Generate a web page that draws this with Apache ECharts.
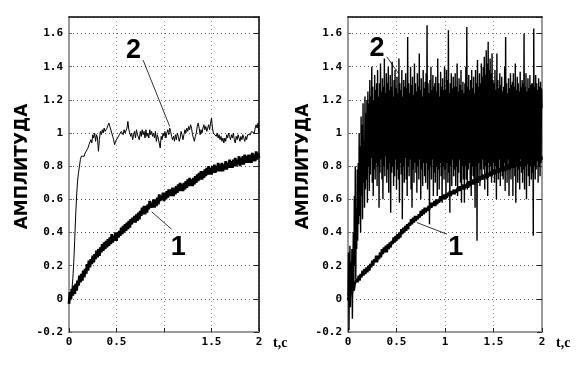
<!DOCTYPE html>
<html><head><meta charset="utf-8">
<script src="https://cdn.jsdelivr.net/npm/echarts@6/dist/echarts.min.js"></script>
<style>html,body{margin:0;padding:0;background:#fff}#c{width:577px;height:366px}</style>
</head><body><div id="c"></div><script>
// sample steps of the recorded signals (seconds)
const T_STEP = 0.01;
const T_STEP_NOISY = 0.005;
const leftXTickLabels  = ['0', '0.5', '', '1.5', '2'];
const rightXTickLabels = ['0', '0.5', '1', '1.5', '2'];
const yTickLabels = ['-0.2','0','0.2','0.4','0.6','0.8','1','1.2','1.4','1.6'];
const yAxisName = 'АМПЛИТУДА';
const xAxisName = 't,c';

// left panel, curve 1 (slow rise, noisy band)
const left1 = [
 -0.03,0.04,0.00,0.06,0.02,0.08,0.03,0.09,0.05,0.11,
 0.08,0.14,0.10,0.15,0.11,0.17,0.13,0.18,0.15,0.21,
 0.17,0.23,0.19,0.24,0.21,0.26,0.22,0.27,0.24,0.29,
 0.25,0.30,0.26,0.31,0.28,0.33,0.29,0.34,0.30,0.35,
 0.31,0.36,0.32,0.37,0.33,0.39,0.34,0.38,0.35,0.40,
 0.35,0.40,0.37,0.41,0.38,0.43,0.39,0.44,0.40,0.45,
 0.41,0.46,0.42,0.47,0.43,0.48,0.45,0.49,0.46,0.50,
 0.46,0.51,0.47,0.52,0.48,0.53,0.50,0.55,0.51,0.56,
 0.51,0.56,0.52,0.57,0.54,0.59,0.55,0.58,0.55,0.60,
 0.55,0.60,0.56,0.61,0.57,0.63,0.59,0.62,0.60,0.64,
 0.59,0.64,0.60,0.65,0.61,0.66,0.62,0.66,0.62,0.67,
 0.62,0.67,0.63,0.68,0.64,0.69,0.65,0.70,0.65,0.69,
 0.65,0.70,0.66,0.71,0.67,0.72,0.68,0.73,0.68,0.72,
 0.68,0.73,0.69,0.74,0.70,0.75,0.71,0.76,0.72,0.77,
 0.72,0.77,0.73,0.78,0.74,0.79,0.75,0.80,0.75,0.79,
 0.75,0.80,0.76,0.81,0.76,0.80,0.77,0.82,0.77,0.81,
 0.77,0.82,0.77,0.81,0.78,0.83,0.78,0.82,0.79,0.84,
 0.79,0.83,0.79,0.84,0.80,0.85,0.80,0.84,0.81,0.86,
 0.80,0.85,0.81,0.86,0.81,0.87,0.82,0.86,0.82,0.87,
 0.82,0.87,0.82,0.88,0.83,0.87,0.83,0.89,0.84,0.88,
 0.85
];
// left panel, curve 2 (fast rise to ~1)
const left2 = [
 0.00,0.00,0.01,0.05,0.12,0.22,0.35,0.50,0.62,0.71,
 0.76,0.80,0.84,0.86,0.85,0.87,0.86,0.88,0.89,0.88,
 0.91,0.93,0.92,0.96,0.94,0.99,0.97,1.00,0.95,0.99,
 0.97,0.89,0.96,1.01,0.99,1.02,1.00,1.03,1.01,1.00,
 1.03,1.02,1.06,1.04,1.05,1.00,0.98,0.96,0.93,0.95,
 0.94,0.97,0.96,0.99,0.98,1.01,1.00,0.99,1.02,1.00,
 1.01,1.03,1.07,1.02,1.03,0.98,1.00,0.96,0.99,1.01,
 0.97,1.02,0.99,1.00,0.96,1.01,0.98,1.02,0.99,1.01,
 0.97,1.02,0.98,1.00,0.97,1.02,0.99,1.01,0.98,1.00,
 0.97,1.01,0.95,0.99,1.00,0.94,0.91,0.98,0.96,1.00,
 0.98,1.01,0.97,1.00,1.02,0.99,1.03,1.01,0.98,0.96,
 0.98,0.95,0.99,0.96,1.00,0.98,0.95,0.97,1.01,0.99,
 0.96,0.99,1.02,1.00,1.03,1.01,1.04,1.02,1.05,1.03,
 0.99,0.97,0.95,0.98,1.00,1.04,1.06,1.03,0.99,1.02,
 1.00,1.03,1.05,1.02,1.04,1.01,1.03,1.05,1.02,1.06,
 1.09,1.03,1.00,0.99,1.01,0.98,1.00,0.97,0.99,0.96,
 0.98,0.95,0.97,0.94,0.97,0.95,0.99,0.97,1.00,0.98,
 0.96,0.99,0.97,1.00,0.96,0.94,0.98,0.96,0.99,0.97,
 0.95,0.98,0.96,0.99,0.97,0.95,0.98,0.96,0.99,0.98,
 1.00,0.99,1.01,1.00,1.02,1.00,1.03,1.05,1.03,1.06,
 1.00
];
// right panel, curve 1
const right1 = [
 -0.01,0.03,0.01,0.05,0.03,0.07,0.05,0.09,0.08,0.12,
 0.10,0.14,0.11,0.15,0.13,0.17,0.14,0.18,0.15,0.19,
 0.16,0.20,0.17,0.21,0.19,0.23,0.20,0.24,0.22,0.26,
 0.22,0.26,0.24,0.28,0.25,0.30,0.27,0.31,0.28,0.32,
 0.28,0.33,0.30,0.34,0.31,0.35,0.33,0.37,0.34,0.38,
 0.35,0.39,0.36,0.40,0.37,0.42,0.39,0.43,0.40,0.44,
 0.41,0.45,0.42,0.46,0.44,0.48,0.45,0.49,0.46,0.50,
 0.47,0.50,0.48,0.51,0.49,0.53,0.50,0.54,0.51,0.55,
 0.52,0.55,0.53,0.56,0.54,0.58,0.55,0.58,0.56,0.59,
 0.56,0.60,0.57,0.60,0.58,0.62,0.59,0.62,0.60,0.63,
 0.60,0.63,0.61,0.64,0.62,0.65,0.62,0.65,0.63,0.66,
 0.63,0.66,0.64,0.67,0.65,0.68,0.65,0.68,0.66,0.69,
 0.66,0.69,0.67,0.70,0.67,0.71,0.68,0.71,0.69,0.72,
 0.69,0.72,0.70,0.73,0.70,0.74,0.71,0.74,0.72,0.75,
 0.72,0.75,0.73,0.76,0.73,0.76,0.74,0.77,0.74,0.77,
 0.75,0.78,0.75,0.78,0.76,0.79,0.76,0.79,0.77,0.80,
 0.77,0.80,0.77,0.80,0.78,0.81,0.78,0.81,0.79,0.82,
 0.79,0.82,0.79,0.82,0.80,0.83,0.80,0.83,0.80,0.83,
 0.81,0.84,0.81,0.84,0.81,0.84,0.82,0.85,0.82,0.85,
 0.82,0.85,0.82,0.85,0.83,0.86,0.83,0.86,0.83,0.86,
 0.84
];
// right panel, curve 2 (heavily noisy), sampled every 0.005 s
const right2 = [
 0.02,0.28,-0.19,0.15,0.32,-0.05,0.22,0.05,0.30,-0.12, 0.18,0.40,0.05,0.62,0.20,0.80,0.12,0.55,0.30,0.78,
 0.35,0.82,0.45,1.00,0.50,0.92,0.40,1.10,0.62,1.05, 0.48,1.18,0.70,0.95,0.55,1.22,0.66,1.12,0.72,1.20,
 0.58,1.25,0.80,1.18,0.65,1.32,0.75,1.22,0.85,1.40, 0.70,1.28,0.62,1.20,0.78,1.35,0.72,1.26,0.82,1.30,
 0.68,1.38,0.80,1.22,0.55,1.30,0.76,1.42,0.84,1.25, 0.72,1.33,0.60,1.28,0.80,1.45,0.74,1.24,0.86,1.36,
 0.70,1.30,0.78,1.40,0.64,1.26,0.82,1.35,0.52,1.28, 0.76,1.43,0.80,1.22,0.68,1.32,0.74,1.38,0.84,1.27,
 0.66,1.34,0.78,1.24,0.72,1.45,0.58,1.30,0.82,1.26, 0.75,1.38,0.48,1.22,0.80,1.32,0.70,1.28,0.85,1.36,
 0.72,1.27,0.62,1.58,0.80,1.30,0.74,1.24,0.84,1.40, 0.66,1.29,0.55,1.34,0.78,1.23,0.70,1.42,0.82,1.30,
 0.76,1.25,0.64,1.36,0.80,1.28,0.72,1.48,0.84,1.26, 0.60,1.33,0.78,1.22,0.68,1.38,0.82,1.27,0.74,1.31,
 0.70,1.36,0.82,1.65,0.66,1.30,0.78,1.24,0.45,1.32, 0.80,1.40,0.72,1.26,0.84,1.35,0.62,1.28,0.76,1.30,
 0.70,1.34,0.80,1.25,0.62,1.45,0.78,1.30,0.66,1.22, 0.82,1.37,0.74,1.28,0.58,1.33,0.80,1.26,0.72,1.40,
 0.78,1.26,0.60,1.38,0.82,1.32,0.70,1.62,0.76,1.24, 0.52,1.30,0.80,1.36,0.68,1.27,0.84,1.34,0.74,1.28,
 0.78,1.36,0.68,1.28,0.80,1.42,0.62,1.25,0.76,1.33, 0.84,1.29,0.70,1.38,0.58,1.26,0.80,1.31,0.72,1.24,
 0.58,1.30,0.80,1.40,0.72,1.64,0.66,1.28,0.78,1.35, 0.82,1.26,0.70,1.32,0.62,1.38,0.80,1.27,0.74,1.34,
 0.70,1.24,0.55,1.38,0.80,1.30,0.35,1.44,0.74,1.28, 0.82,1.36,0.68,1.30,0.78,1.42,0.72,1.34,0.84,1.40,
 0.78,1.46,0.66,1.35,0.80,1.50,0.72,1.42,0.62,1.55, 0.82,1.38,0.74,1.45,0.80,1.36,0.70,1.48,0.76,1.32,
 0.82,1.30,0.70,1.38,0.80,1.26,0.60,1.48,0.78,1.32, 0.72,1.27,0.84,1.36,0.68,1.29,0.80,1.34,0.74,1.25,
 0.72,1.28,0.82,1.40,0.65,1.58,0.80,1.30,0.70,1.24, 0.84,1.33,0.62,1.27,0.78,1.36,0.72,1.29,0.80,1.31,
 0.62,1.36,0.80,1.28,0.74,1.42,0.58,1.26,0.82,1.34, 0.70,1.30,0.78,1.25,0.66,1.37,0.84,1.28,0.76,1.32,
 0.70,1.30,0.78,1.60,0.66,1.28,0.80,1.36,0.60,1.25, 0.82,1.33,0.74,1.27,0.68,1.35,0.80,1.29,0.72,1.30,
 0.76,1.30,0.38,1.63,0.80,1.28,0.72,1.35,0.78,1.30, 0.84,1.26,0.70,1.33,0.80,1.28,0.74,1.31,0.82,1.27,
 1.15
];
// curve labels: [label, text position, leader start, leader end] in data units
const leftNotes = [
  ['2', [0.68, 1.50], [0.78, 1.44], [1.06, 1.04]],
  ['1', [1.15, 0.31], [1.08, 0.42], [0.87, 0.525]]
];
const rightNotes = [
  ['2', [0.30, 1.51], [0.40, 1.46], [0.52, 1.36]],
  ['1', [1.11, 0.31], [1.02, 0.39], [0.71, 0.46]]
];

function pairs(arr, step){ return arr.map((v,i)=>[+(i*step).toFixed(4), v]); }

const chart = echarts.init(document.getElementById('c'), null, {renderer:'canvas'});
const tickFont = {fontFamily:'DejaVu Sans Mono', fontWeight:'bold', fontSize:11, color:'#000'};
function bottomX(grid, labels){
  return {type:'value', gridIndex:grid, min:0, max:2, interval:0.5, position:'bottom',
    axisLine:{onZero:false, lineStyle:{color:'#9a9a9a', width:2}},
    axisTick:{inside:true, length:4, lineStyle:{color:'#222'}},
    axisLabel:Object.assign({margin:5, formatter:v=>labels[Math.round(v/0.5)]}, tickFont),
    splitLine:{show:true, lineStyle:{color:'#999', type:[1,3], width:1}},
    name:xAxisName, nameLocation:'end', nameGap:14,
    nameTextStyle:{fontFamily:'Liberation Serif', fontWeight:'bold', fontSize:14, color:'#000', verticalAlign:'top', padding:[4,0,0,0]}
  };
}
function topX(grid){
  return {type:'value', gridIndex:grid, min:0, max:2, interval:0.5, position:'top',
    axisLine:{onZero:false, lineStyle:{color:'#000', width:1.5}}, axisTick:{show:false}, axisLabel:{show:false}, splitLine:{show:false}};
}
function leftY(grid, gap){
  return {type:'value', gridIndex:grid, min:-0.2, max:1.7, interval:0.2, position:'left',
    axisLine:{show:true, onZero:false, lineStyle:{color:'#9a9a9a', width:2}},
    axisTick:{show:true, inside:true, length:3, lineStyle:{color:'#666'}},
    axisLabel:Object.assign({margin:6, showMaxLabel:false,
      formatter:v=>{const k=Math.round((v+0.2)/0.2); return (k>=0&&k<yTickLabels.length&&Math.abs(v-(-0.2+k*0.2))<1e-6)?yTickLabels[k]:'';}}, tickFont),
    splitLine:{show:true, lineStyle:{color:'#555', type:[1,3], width:1}},
    name:yAxisName, nameLocation:'middle', nameRotate:90, nameGap:gap,
    nameTextStyle:{fontFamily:'DejaVu Sans', fontWeight:'bold', fontSize:17, color:'#000', padding:[0,0,0,16]}
  };
}
function rightY(grid, col){
  return {type:'value', gridIndex:grid, min:-0.2, max:1.7, interval:0.2, position:'right',
    axisLine:{show:true, onZero:false, lineStyle:{color:col, width:col==='#000'?1.5:2}},
    axisTick:{show:true, inside:true, length:5, lineStyle:{color:'#222'}},
    axisLabel:{show:false}, splitLine:{show:false}};
}
const lineBase = {type:'line', showSymbol:false, symbol:'none', sampling:null, animation:false, silent:true};
chart.setOption({
  animation:false,
  backgroundColor:'#fff',
  grid:[{left:69, top:17, width:190, height:315}, {left:348, top:17, width:194, height:315}],
  xAxis:[bottomX(0,leftXTickLabels), bottomX(1,rightXTickLabels), topX(0), topX(1)],
  yAxis:[leftY(0,38), leftY(1,25), rightY(0,'#000'), rightY(1,'#9a9a9a')],
  series:[
    Object.assign({}, lineBase, {xAxisIndex:0, yAxisIndex:0, data:pairs(left1,T_STEP), lineStyle:{color:'#000', width:2.8}}),
    Object.assign({}, lineBase, {xAxisIndex:0, yAxisIndex:0, data:pairs(left2,T_STEP), lineStyle:{color:'#000', width:1}}),
    Object.assign({}, lineBase, {xAxisIndex:1, yAxisIndex:1, data:pairs(right2,T_STEP_NOISY), lineStyle:{color:'#000', width:1.4}}),
    Object.assign({}, lineBase, {xAxisIndex:1, yAxisIndex:1, data:pairs(right1,T_STEP), lineStyle:{color:'#000', width:2.4}})
  ]
});
function notes(list, xi, yi){
  const out=[];
  list.forEach(n=>{
    const p=chart.convertToPixel({xAxisIndex:xi, yAxisIndex:yi}, n[1]);
    const a=chart.convertToPixel({xAxisIndex:xi, yAxisIndex:yi}, n[2]);
    const b=chart.convertToPixel({xAxisIndex:xi, yAxisIndex:yi}, n[3]);
    out.push({type:'line', shape:{x1:a[0],y1:a[1],x2:b[0],y2:b[1]}, style:{stroke:'#000', lineWidth:0.8}, z:100});
    out.push({type:'text', x:p[0], y:p[1], style:{text:n[0], fill:'#000', font:'bold 27px "Liberation Sans", Arial, sans-serif', textAlign:'center', textVerticalAlign:'middle'}, z:100});
  });
  return out;
}
chart.setOption({graphic:notes(leftNotes,0,0).concat(notes(rightNotes,1,1))});
</script></body></html>
